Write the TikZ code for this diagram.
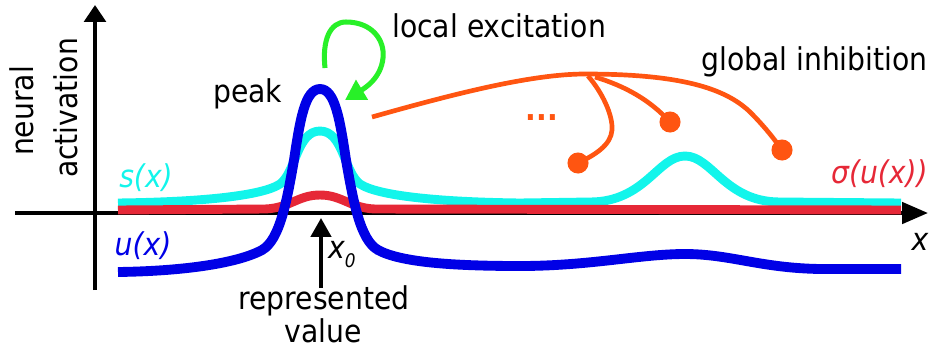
\documentclass[tikz,border=0pt]{standalone}
\usepackage{fontspec}
\setmainfont{DejaVu Sans Condensed}
\usetikzlibrary{arrows.meta}
\definecolor{ActBlue}{RGB}{0,0,230}
\definecolor{StimCyan}{RGB}{18,245,235}
\definecolor{OutRed}{RGB}{230,40,55}
\definecolor{InhOrange}{RGB}{255,85,17}
\definecolor{ExcGreen}{RGB}{40,240,40}
\tikzset{
  txt/.style={
    inner sep=0pt,
    font=\fontsize{26.8}{32}\selectfont
  },
  mtxt/.style={
    txt,
    font=\fontsize{26.8}{32}\selectfont\itshape
  },
  axis/.style={line width=3.4pt},
  curve/.style={line width=7.6pt},
  inhib/.style={line width=4pt,draw=InhOrange},
  dot/.style={
    circle,
    fill=InhOrange,
    inner sep=0pt,
    minimum size=18pt
  }
}

\begin{document}
\begin{tikzpicture}[x=0.03cm,y=-0.03cm]
\useasboundingbox (0,0) rectangle (936,352);

% axes
\coordinate (x1) at (15,213);
\coordinate (x2) at (928,213);
\coordinate (y1) at (95,290);
\coordinate (y2) at (95,5);
\draw[axis,-{Triangle[length=22pt,width=18pt]}] (x1) -- (x2);
\draw[axis,-{Triangle[length=14.5pt,width=18.5pt]}] (y1) -- (y2);

% represented value
\coordinate (v1) at (321,288);
\coordinate (v2) at (321,218);
\draw[axis,-{Triangle[length=16pt,width=17pt]}] (v1) -- (v2);

% s(x)
\draw[curve,StimCyan] (118,203) .. controls (200,202) and (262,196) .. (280,184)
  .. controls (296,172) and (297,131) .. (320,131)
  .. controls (343,131) and (344,172) .. (360,184)
  .. controls (378,196) and (440,202) .. (520,203)
  -- (590,202) .. controls (645,202) and (658,156) .. (685,156)
  .. controls (712,156) and (725,202) .. (780,202) -- (901,203);

% sigma(u(x))
\draw[curve,OutRed] (118,210) -- (265,209)
  .. controls (290,208) and (298,195) .. (320,195)
  .. controls (342,195) and (350,208) .. (375,209) -- (901,210);

% u(x)
\draw[curve,line width=8.4pt,ActBlue] (118,272) .. controls (190,271) and (240,262) .. (262,250)
  .. controls (280,240) and (287,200) .. (294,160)
  .. controls (300,120) and (305,89) .. (320,89)
  .. controls (335,89) and (340,120) .. (346,160)
  .. controls (353,200) and (360,240) .. (378,250)
  .. controls (400,262) and (450,266) .. (520,266)
  .. controls (590,266) and (640,254) .. (685,254)
  .. controls (730,254) and (760,268) .. (820,269) -- (901,269);

% local excitation
\coordinate (g1) at (325,68);
\coordinate (g2) at (345,100);
\draw[line width=4.3pt,ExcGreen,-{Triangle[length=17pt,width=19pt]}] (g1)
  .. controls (322,40) and (330,22) .. (346,22)
  .. controls (372,22) and (385,40) .. (383,58)
  .. controls (381,78) and (365,88) .. (g2);

% global inhibition
\node[dot] (d1) at (578,163) {};
\node[dot] (d2) at (670,122) {};
\node[dot] (d3) at (782,150) {};
\coordinate (i0) at (372,117);
\coordinate (hub) at (585,74);
\draw[inhib] (i0) .. controls (450,95) and (530,74) .. (hub)
  .. controls (680,74) and (725,88) .. (750,112)
  .. controls (765,127) and (775,140) .. (d3.center);
\draw[inhib] (588,76) .. controls (602,92) and (613,115) .. (612,130)
  .. controls (611,145) and (595,155) .. (d1.center);
\draw[inhib] (595,77) .. controls (625,86) and (650,100) .. (d2.center);
\node[txt,text=InhOrange,anchor=base,font=\fontsize{26.8}{32}\selectfont\bfseries] (dots) at (542,120) {...};

% labels
\node[txt,rotate=90,anchor=base] (lab1) at (33,111) {neural};
\node[txt,rotate=90,anchor=base] (lab2) at (77,108) {activation};
\node[txt,anchor=base west] (peak) at (213,102) {peak};
\node[txt,anchor=base west] (exc) at (392,37) {local excitation};
\node[txt,anchor=base east] (inh) at (928,70) {global inhibition};
\node[txt,anchor=base] (rep) at (324,309) {represented};
\node[txt,anchor=base] (val) at (323,342) {value};
\node[mtxt,text=StimCyan,anchor=base] (s) at (146,187) {s(x)};
\node[mtxt,text=ActBlue,anchor=base] (u) at (143,255) {u(x)};
\node[mtxt,text=OutRed,anchor=base east] (sig) at (928,183) {σ(u(x))};
\node[mtxt,anchor=base] (xlab) at (920,250) {x};
\node[mtxt,anchor=base west] (x0) at (328,258) {x\raisebox{-0.3em}{\fontsize{16}{16}\selectfont 0}};

\end{tikzpicture}
\end{document}
